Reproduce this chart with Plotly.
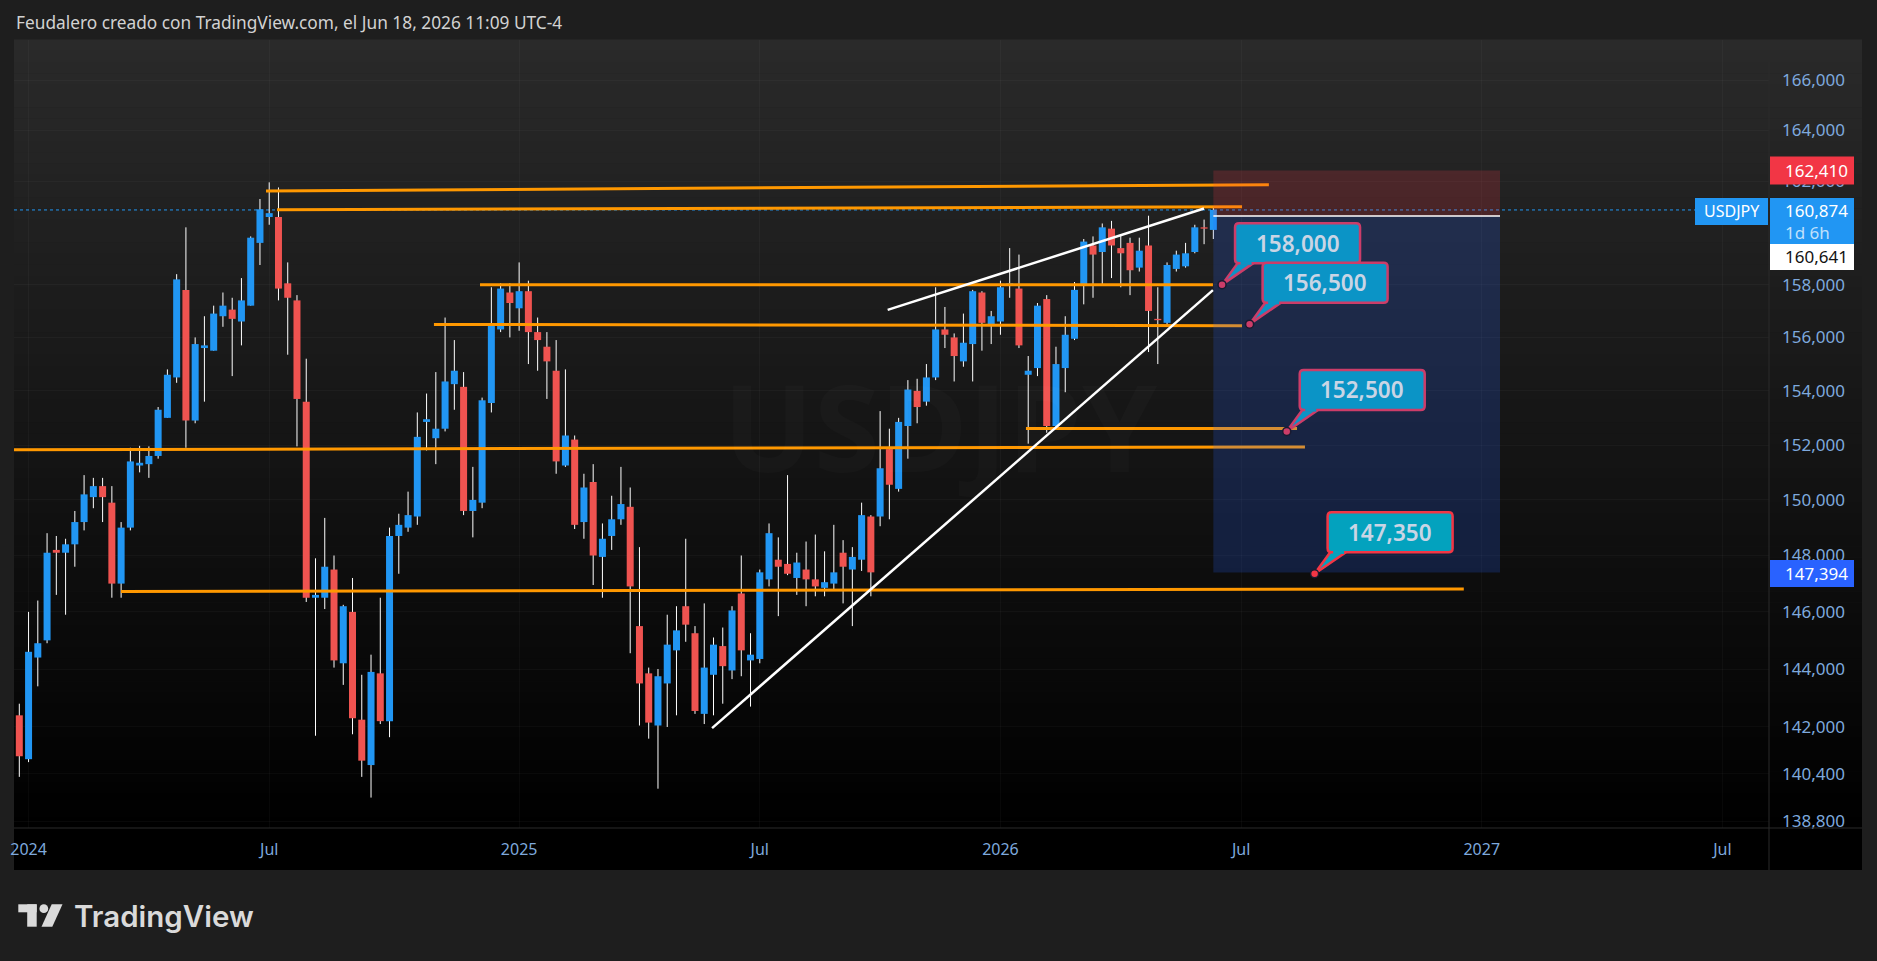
import math
import pandas as pd
import plotly.graph_objects as go

# ---------------- data ----------------
first_bar = "2023-12-25"   # weekly bars, USDJPY
opens = [142.4, 140.9, 144.4, 145.0, 148.2, 148.1, 148.4, 149.2, 150.1, 150.5,
         149.9, 147.0, 149.0, 151.25, 151.3, 151.6, 153.0, 154.5, 157.8, 152.9,
         155.6, 155.5, 156.8, 157.05, 156.6, 157.2, 159.6, 160.6, 160.6, 158.05,
         157.4, 153.6, 146.5, 146.5, 147.5, 144.2, 146.0, 142.25, 140.7, 143.85,
         142.2, 148.7, 149.0, 149.4, 152.85, 152.25, 152.6, 154.25, 154.15, 149.6,
         149.9, 153.55, 156.3, 157.7, 157.1, 157.75, 156.2, 155.65, 154.75, 151.25,
         152.2, 149.2, 150.65, 147.95, 148.7, 149.3, 149.75, 145.5, 143.85, 142.05,
         143.5, 144.65, 146.2, 145.25, 142.45, 143.8, 144.8, 143.95, 146.65, 144.3,
         144.35, 147.15, 147.85, 147.7, 147.2, 147.5, 147.15, 146.85, 147.0, 148.1,
         147.5, 147.85, 149.4, 149.4, 151.85, 150.4, 152.7, 154.0, 153.6, 154.5,
         156.3, 156.0, 155.1, 155.75, 157.7, 156.45, 156.6, 157.95, 157.85, 154.6,
         154.85, 157.45, 152.7, 154.85, 155.95, 157.95, 159.5, 159.25, 160.15, 159.4,
         159.6, 158.65, 159.5, 156.7, 156.55, 158.6, 158.7, 159.25, 160.2, 160.1]
highs = [142.8, 146.0, 146.4, 148.8, 148.7, 148.6, 149.6, 150.9, 150.8, 150.8,
         150.5, 149.2, 151.9, 151.97, 151.95, 153.4, 154.8, 158.4, 160.2, 156.0,
         156.8, 157.2, 157.7, 157.5, 158.25, 159.85, 161.3, 161.95, 161.75, 158.85,
         157.6, 155.2, 147.9, 149.35, 148.0, 146.25, 147.2, 143.8, 144.5, 146.5,
         149.0, 149.5, 150.3, 153.2, 153.9, 154.7, 156.75, 155.9, 154.7, 151.2,
         153.75, 157.9, 158.05, 158.05, 158.85, 158.15, 156.75, 156.2, 155.9, 154.8,
         152.35, 150.95, 151.3, 149.15, 150.15, 151.2, 150.45, 148.3, 144.05, 144.0,
         145.9, 146.2, 148.6, 145.5, 146.3, 145.1, 145.45, 146.2, 148.0, 145.25,
         147.5, 149.15, 148.65, 150.9, 148.1, 148.5, 148.75, 148.15, 149.1, 148.55,
         148.3, 149.9, 149.45, 153.25, 152.6, 153.0, 154.4, 154.45, 155.0, 157.9,
         157.15, 156.15, 156.9, 157.8, 157.75, 157.0, 158.15, 159.4, 159.15, 155.3,
         157.3, 157.6, 155.65, 156.8, 158.1, 159.75, 159.85, 160.35, 160.45, 159.9,
         159.8, 159.8, 160.65, 157.9, 158.85, 159.3, 159.6, 160.3, 160.5, 160.95]
lows = [140.3, 140.8, 143.4, 144.9, 146.6, 145.9, 147.6, 148.9, 149.7, 149.2,
        146.5, 146.5, 148.9, 151.0, 150.8, 151.5, 153.0, 154.3, 151.9, 152.8,
        153.6, 155.5, 156.4, 154.55, 155.7, 157.2, 158.75, 160.3, 157.4, 155.35,
        151.95, 146.35, 141.7, 146.1, 144.05, 143.45, 141.75, 140.3, 139.6, 142.1,
        141.65, 147.35, 148.85, 149.1, 151.8, 151.3, 152.5, 153.3, 149.45, 148.65,
        149.7, 153.2, 156.2, 156.0, 156.25, 155.0, 154.75, 153.7, 150.95, 151.2,
        148.95, 148.6, 146.95, 146.5, 148.2, 149.1, 144.55, 142.05, 141.6, 139.9,
        142.0, 142.4, 144.95, 142.45, 142.1, 142.4, 142.8, 143.65, 143.75, 142.7,
        144.2, 146.9, 145.85, 147.3, 146.6, 146.2, 146.55, 146.55, 146.75, 146.3,
        145.5, 147.45, 146.55, 149.05, 149.3, 150.3, 151.5, 152.8, 153.45, 154.4,
        155.6, 154.35, 154.9, 154.35, 155.5, 155.75, 156.1, 157.5, 155.6, 152.05,
        154.55, 152.45, 152.6, 153.95, 155.9, 157.25, 157.5, 158.0, 158.25, 157.9,
        157.6, 158.5, 155.45, 155.0, 156.45, 158.5, 158.65, 159.2, 159.55, 159.75]
closes = [141.0, 144.6, 144.9, 148.1, 148.1, 148.4, 149.2, 150.2, 150.5, 150.1,
          147.0, 149.0, 151.4, 151.35, 151.6, 153.3, 154.6, 158.2, 152.9, 155.75,
          155.7, 156.9, 157.2, 156.7, 157.4, 159.8, 160.9, 160.75, 157.85, 157.5,
          153.7, 146.5, 146.6, 147.6, 144.3, 146.2, 142.3, 140.85, 143.9, 142.2,
          148.7, 149.1, 149.45, 152.3, 152.95, 152.6, 154.35, 154.75, 149.6, 150.0,
          153.65, 156.5, 157.85, 157.3, 157.75, 156.2, 155.9, 155.1, 151.4, 152.35,
          149.1, 150.45, 148.0, 148.6, 149.3, 149.85, 146.9, 143.5, 142.15, 143.75,
          144.85, 145.35, 145.55, 142.55, 144.05, 144.85, 144.1, 146.05, 144.65, 144.5,
          147.4, 148.8, 147.6, 147.35, 147.75, 147.15, 146.9, 147.05, 147.4, 147.6,
          147.95, 149.45, 147.4, 151.15, 150.55, 152.85, 154.05, 153.4, 154.5, 156.3,
          156.1, 155.3, 155.8, 157.75, 156.55, 156.8, 157.9, 158.05, 155.7, 154.75,
          157.2, 152.7, 155.0, 156.1, 157.8, 159.65, 159.15, 160.2, 159.5, 159.2,
          158.55, 159.3, 157.0, 156.65, 158.75, 159.15, 159.2, 160.2, 160.15, 160.874]
last_price = 160.874

# horizontal / sloped orange levels
orange_x0 = ["2024-06-28 14:00", "2024-07-06 22:00", "2024-12-07 10:00", "2024-11-02 14:00",
             "2026-01-24 07:00", "2023-12-18 00:00", "2024-03-10 22:00"]
orange_x1 = ["2026-07-27 00:00", "2026-07-06 17:00", "2026-06-14 17:00", "2026-07-06 17:00",
             "2026-08-17 07:00", "2026-08-23 07:00", "2026-12-21 10:00"]
orange_y0 = [161.61, 160.88, 158.0, 156.49, 152.61, 151.83, 146.72]
orange_y1 = [161.86, 161.0, 158.0, 156.44, 152.61, 151.93, 146.81]

# white trend lines (rising wedge)
white_x0 = ["2025-05-31 22:00", "2025-10-11 17:00"]
white_x1 = ["2026-06-14 17:00", "2026-06-07 22:00"]
white_y0 = [141.96, 157.04]
white_y1 = [157.79, 160.93]

# short-position tool
pos_start, pos_end = "2026-06-15 00:00", "2027-01-17 19:00"
pos_entry, pos_stop, pos_target = 160.641, 162.41, 147.394

# callouts
callout_text = ["158,000", "156,500", "152,500", "147,350"]
callout_x = ["2026-06-21 14:00", "2026-07-12 10:00", "2026-08-09 12:00", "2026-08-30 14:00"]
callout_y = [158.0, 156.5, 152.5, 147.35]
callout_fill = ["#0B94C6", "#0B94C6", "#0B94C6", "#03A2BE"]
callout_border = ["#CC3D69", "#CC3D69", "#CC3D69", "#F23645"]

# axes ticks (160,000 is hidden behind the price labels in the original)
y_ticks = [138.8, 140.4, 142, 144, 146, 148, 150, 152, 154, 156, 158, 162, 164, 166]
y_tick_text = ["138,800", "140,400", "142,000", "144,000", "146,000", "148,000", "150,000",
               "152,000", "154,000", "156,000", "158,000", "162,000", "164,000", "166,000"]
x_ticks = ["2024-01-01", "2024-07-01", "2025-01-06", "2025-07-07", "2026-01-05",
           "2026-07-06", "2027-01-04", "2027-07-05"]
x_tick_text = ["2024", "Jul", "2025", "Jul", "2026", "Jul", "2027", "Jul"]

title_text = "Feudalero creado con TradingView.com, el Jun 18, 2026 11:09 UTC-4"

# ---------------- layout calibration ----------------
W, H = 1877, 961
PL, PR, PT, PB = 14, 1769, 40, 828
AXR = 1862
BAR0_PX, PX_PER_DAY = 19.3, 1.3223
Y_REF_PX, Y_REF_P, PX_PER_LN = 80.0, 166.0, 4143.0

UP, DOWN = "#2196F3", "#EF5350"
ORANGE = "#FF9800"
FONT = "Noto Sans"
AXIS_TXT = "#7EA9DD"


def px_to_price(py):
    return Y_REF_P * math.exp((Y_REF_PX - py) / PX_PER_LN)


def px_to_date(px):
    return pd.Timestamp(first_bar) + pd.Timedelta(days=(px - BAR0_PX) / PX_PER_DAY)


def xp(px):
    return (px - PL) / (PR - PL)


def yp(py):
    return (PB - py) / (PB - PT)


bar_dates = pd.date_range(first_bar, periods=len(opens), freq="7D")

fig = go.Figure()

# wicks
wx, wy = [], []
for d, lo, hi in zip(bar_dates, lows, highs):
    wx += [d, d, None]
    wy += [lo, hi, None]
fig.add_trace(go.Scatter(x=wx, y=wy, mode="lines", line=dict(color="#FFFFFF", width=1),
                         hoverinfo="skip", showlegend=False))

# bodies
for up, color in ((True, UP), (False, DOWN)):
    bx, by = [], []
    for d, o, c in zip(bar_dates, opens, closes):
        if (c >= o) != up:
            continue
        lo, hi = min(o, c), max(o, c)
        if hi - lo < 0.045:
            m = (hi + lo) / 2
            lo, hi = m - 0.0225, m + 0.0225
        bx += [d, d, None]
        by += [lo, hi, None]
    fig.add_trace(go.Scatter(x=bx, y=by, mode="lines", line=dict(color=color, width=7),
                             hoverinfo="skip", showlegend=False))

# orange levels
for x0, x1, y0, y1 in zip(orange_x0, orange_x1, orange_y0, orange_y1):
    fig.add_trace(go.Scatter(x=[x0, x1], y=[y0, y1], mode="lines",
                             line=dict(color=ORANGE, width=3), hoverinfo="skip", showlegend=False))
# white trend lines
for x0, x1, y0, y1 in zip(white_x0, white_x1, white_y0, white_y1):
    fig.add_trace(go.Scatter(x=[x0, x1], y=[y0, y1], mode="lines",
                             line=dict(color="#FFFFFF", width=2.5), hoverinfo="skip", showlegend=False))

shapes = []
# background gradient (pane + price scale)
NB = 70
for i in range(NB):
    y0 = PT + (PB - PT) * i / NB
    y1 = PT + (PB - PT) * (i + 1) / NB
    lvl = int(round(42 * (1 - ((y0 + y1) / 2 - PT) / (PB - PT))))
    shapes.append(dict(type="rect", xref="paper", yref="paper", x0=xp(PL), x1=xp(AXR),
                       y0=yp(y1), y1=yp(y0) + 0.0005, fillcolor=f"rgb({lvl},{lvl},{lvl})",
                       line=dict(width=0), layer="below"))
# time axis strip
shapes.append(dict(type="rect", xref="paper", yref="paper", x0=xp(PL), x1=xp(AXR),
                   y0=yp(870), y1=yp(PB), fillcolor="#000000", line=dict(width=0), layer="below"))
# separators
shapes.append(dict(type="line", xref="paper", yref="paper", x0=xp(PR), x1=xp(PR), y0=yp(870), y1=yp(PT),
                   line=dict(color="#2A2A2A", width=1), layer="above"))
shapes.append(dict(type="line", xref="paper", yref="paper", x0=xp(PL), x1=xp(AXR), y0=yp(PB), y1=yp(PB),
                   line=dict(color="#2A2A2A", width=1), layer="above"))
# last-price dotted line
shapes.append(dict(type="line", xref="paper", yref="y", x0=0, x1=xp(1695), y0=last_price, y1=last_price,
                   line=dict(color="#2196F3", width=1, dash="dot"), layer="below"))
# position tool
shapes.append(dict(type="rect", xref="x", yref="y", x0=pos_start, x1=pos_end, y0=pos_entry, y1=pos_stop,
                   fillcolor="rgba(242,54,69,0.2)", line=dict(width=0), layer="above"))
shapes.append(dict(type="rect", xref="x", yref="y", x0=pos_start, x1=pos_end, y0=pos_target, y1=pos_entry,
                   fillcolor="rgba(41,98,255,0.2)", line=dict(width=0), layer="above"))
shapes.append(dict(type="line", xref="x", yref="y", x0=pos_start, x1=pos_end, y0=pos_entry, y1=pos_entry,
                   line=dict(color="#FFFFFF", width=1.5), layer="above"))


def rounded(x0, y0, x1, y1, r):
    return (f"M {x0 + r} {y0} L {x1 - r} {y0} Q {x1} {y0} {x1} {y0 + r} L {x1} {y1 - r} "
            f"Q {x1} {y1} {x1 - r} {y1} L {x0 + r} {y1} Q {x0} {y1} {x0} {y1 - r} "
            f"L {x0} {y0 + r} Q {x0} {y0} {x0 + r} {y0} Z")


def circle_path(r):
    k = 0.5523 * r
    return (f"M {r} 0 C {r} {k} {k} {r} 0 {r} C {-k} {r} {-r} {k} {-r} 0 "
            f"C {-r} {-k} {-k} {-r} 0 {-r} C {k} {-r} {r} {-k} {r} 0 Z")


annotations = []
for t, cx, cy, fc, bc in zip(callout_text, callout_x, callout_y, callout_fill, callout_border):
    common = dict(xref="x", yref="y", xsizemode="pixel", ysizemode="pixel", xanchor=cx, yanchor=cy,
                  layer="above")
    shapes.append(dict(type="path", path="M 16 22 L 0 0 L 32 22 Z", fillcolor=fc,
                       line=dict(color=bc, width=2.5), **common))
    shapes.append(dict(type="path", path=rounded(13, 21.5, 138, 61.5, 4), fillcolor=fc,
                       line=dict(color=bc, width=2.5), **common))
    shapes.append(dict(type="path", path="M 18.5 19.8 L 29.5 19.8 L 29.5 23.2 L 18.5 23.2 Z", fillcolor=fc,
                       line=dict(width=0), **common))
    shapes.append(dict(type="path", path=circle_path(4), fillcolor=bc,
                       line=dict(color="#1A1A30", width=1.5), **common))
    annotations.append(dict(x=cx, y=math.log10(cy), xref="x", yref="y", xshift=75.5, yshift=41.5,
                            text=t, showarrow=False,
                            font=dict(family=FONT, size=22.5, color="#C9D5E5", weight=600)))


# price-scale labels
def scale_label(price, top, bottom, bg, x0px=1770, x1px=1854):
    a, b = xp(x0px), xp(x1px)
    shapes.append(dict(type="path", xref="paper", yref="y", ysizemode="pixel", yanchor=price,
                       path=f"M {a} {bottom} L {b} {bottom} L {b} {top} L {a} {top} Z",
                       fillcolor=bg, line=dict(width=0), layer="above"))


def scale_text(price, text, yshift, color, x=1783, anchor="left", size=17):
    annotations.append(dict(x=xp(x), y=math.log10(price), xref="paper", yref="y", xanchor=anchor,
                            yanchor="middle", yshift=yshift, text=text, showarrow=False,
                            font=dict(family=FONT, size=size, color=color)))


scale_label(pos_stop, 14, -14, "#F23645")
scale_text(pos_stop, "162,410", 0, "#FFFFFF")
scale_label(last_price, 12, -35, "#2196F3")
scale_text(last_price, "160,874", -1, "#FFFFFF")
scale_text(last_price, "1d 6h", -23, "rgba(255,255,255,0.72)")
scale_label(pos_entry, -28, -54, "#FFFFFF")
scale_text(pos_entry, "160,641", -41, "#131313")
scale_label(pos_target, 12.5, -14.5, "#2962FF")
scale_text(pos_target, "147,394", -1, "#FFFFFF")
scale_label(last_price, 12, -15, "#2196F3", x0px=1695, x1px=1768)
scale_text(last_price, "USDJPY", -1.5, "#FFFFFF", x=1731.5, anchor="center", size=16)

# title, watermark, logo
annotations.append(dict(x=xp(14), y=yp(23), xref="paper", yref="paper", xanchor="left", yanchor="middle",
                        text=title_text, showarrow=False, font=dict(family=FONT, size=17.3, color="#D2D2D2")))
annotations.append(dict(x=xp(940), y=yp(425), xref="paper", yref="paper", xanchor="center", yanchor="middle",
                        text="USDJPY", showarrow=False,
                        font=dict(family=FONT, size=120, color="rgba(255,255,255,0.018)", weight=700)))
LOGO = "#DADADA"
shapes.append(dict(type="rect", xref="paper", yref="paper", x0=xp(18.3), x1=xp(36.7), y0=yp(912.3), y1=yp(904.3),
                   fillcolor=LOGO, line=dict(width=0), layer="above"))
shapes.append(dict(type="rect", xref="paper", yref="paper", x0=xp(27.2), x1=xp(36.7), y0=yp(926.7), y1=yp(904.3),
                   fillcolor=LOGO, line=dict(width=0), layer="above"))
shapes.append(dict(type="circle", xref="paper", yref="paper", x0=xp(39.4), x1=xp(48.2), y0=yp(913), y1=yp(904.3),
                   fillcolor=LOGO, line=dict(width=0), layer="above"))
shapes.append(dict(type="path", xref="paper", yref="paper",
                   path=f"M {xp(51.7)} {yp(904.3)} L {xp(62.5)} {yp(904.3)} L {xp(52.3)} {yp(926.7)} "
                        f"L {xp(41.5)} {yp(926.7)} Z",
                   fillcolor=LOGO, line=dict(width=0), layer="above"))
annotations.append(dict(x=xp(72), y=yp(916), xref="paper", yref="paper", xanchor="left", yanchor="middle",
                        text="TradingView", showarrow=False,
                        font=dict(family="Inter", size=29.5, color=LOGO, weight=600)))

x_left = px_to_date(PL)
x_right = px_to_date(PR)
y_lo = math.log10(px_to_price(PB))
y_hi = math.log10(px_to_price(PT))

fig.update_layout(
    width=W, height=H,
    margin=dict(l=PL, r=W - PR, t=PT, b=H - PB, autoexpand=False),
    paper_bgcolor="#1E1E1E", plot_bgcolor="rgba(0,0,0,0)",
    showlegend=False, hovermode=False,
    shapes=shapes, annotations=annotations,
    xaxis=dict(type="date", range=[str(x_left), str(x_right)], tickvals=x_ticks, ticktext=x_tick_text,
               showgrid=True, gridcolor="rgba(255,255,255,0.03)", gridwidth=1, zeroline=False,
               showline=False, ticks="", ticklabelstandoff=10,
               tickfont=dict(family=FONT, size=16, color=AXIS_TXT), fixedrange=True),
    yaxis=dict(type="log", side="right", range=[y_lo, y_hi], tickvals=y_ticks, ticktext=y_tick_text,
               showgrid=True, gridcolor="rgba(255,255,255,0.03)", gridwidth=1, zeroline=False,
               showline=False, ticks="", ticklabelstandoff=12,
               tickfont=dict(family=FONT, size=17, color=AXIS_TXT), fixedrange=True),
)

fig.write_html("out.html", config=dict(displayModeBar=False))
